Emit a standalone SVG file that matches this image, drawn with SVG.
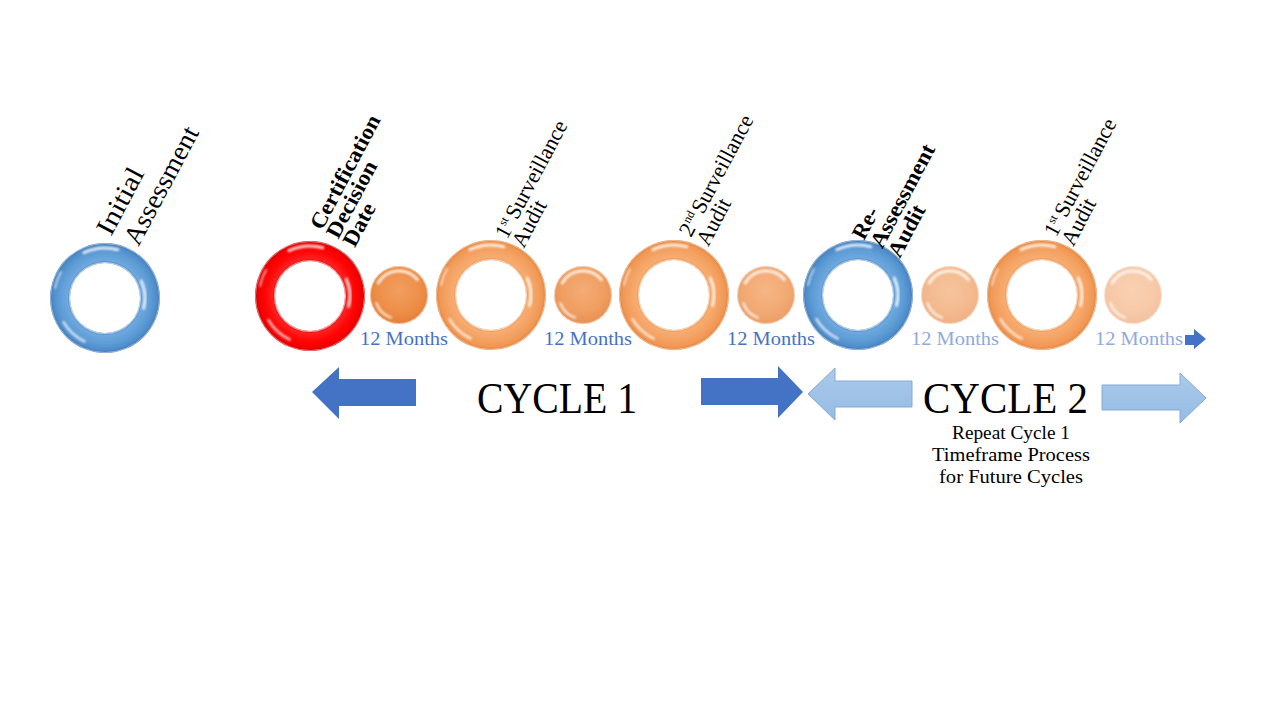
<svg xmlns="http://www.w3.org/2000/svg" width="1280" height="720" viewBox="0 0 1280 720">
<style>
.lbl{font-family:"Liberation Serif","DejaVu Serif",serif;fill:#000}
.b{font-weight:bold}
.mo{font-family:"Liberation Serif","DejaVu Serif",serif;font-size:19px}
.mo1{fill:#4472C4}
.mo2{fill:#8FAADC}
.cyc{font-family:"Liberation Serif","DejaVu Serif",serif;font-size:45px;fill:#000}
.rep{font-family:"Liberation Serif","DejaVu Serif",serif;font-size:18px;fill:#000}
.hl{fill:none;stroke:#fff;stroke-linecap:round;filter:url(#blur)}
.dark{fill:#4472C4}
.light{fill:url(#gLight);stroke:#86A9D6;stroke-width:1}
</style>
<defs>
<filter id="blur" x="-50%" y="-50%" width="200%" height="200%"><feGaussianBlur stdDeviation="1.1"/></filter>
<radialGradient id="gBlue" cx="0.5" cy="0.5" r="0.5">
<stop offset="0.63" stop-color="#3C78B8"/><stop offset="0.68" stop-color="#6EA8DE"/><stop offset="0.82" stop-color="#5E9DD6"/><stop offset="0.94" stop-color="#508ECB"/><stop offset="1" stop-color="#3D76B2"/>
</radialGradient>
<radialGradient id="gRed" cx="0.5" cy="0.5" r="0.5">
<stop offset="0.63" stop-color="#D00000"/><stop offset="0.68" stop-color="#FF2020"/><stop offset="0.82" stop-color="#FF0505"/><stop offset="0.94" stop-color="#F40000"/><stop offset="1" stop-color="#C80000"/>
</radialGradient>
<radialGradient id="gOrange" cx="0.5" cy="0.5" r="0.5">
<stop offset="0.63" stop-color="#E4843A"/><stop offset="0.68" stop-color="#F7AC70"/><stop offset="0.82" stop-color="#F4A263"/><stop offset="0.94" stop-color="#F09753"/><stop offset="1" stop-color="#E0803A"/>
</radialGradient>
<radialGradient id="gBall" cx="0.5" cy="0.42" r="0.6">
<stop offset="0" stop-color="#F29A58"/><stop offset="0.6" stop-color="#EE8A40"/><stop offset="1" stop-color="#E2772C"/>
</radialGradient>
<linearGradient id="gLight" x1="0" y1="0" x2="0" y2="1">
<stop offset="0" stop-color="#A9CAEB"/><stop offset="1" stop-color="#96BBE3"/>
</linearGradient>
<path id="annulus" fill-rule="evenodd" d="M-55,0 a55,55 0 1,0 110,0 a55,55 0 1,0 -110,0 Z M-35,0 a35,35 0 1,1 70,0 a35,35 0 1,1 -70,0 Z"/>
<g id="ringHl">
<path class="hl" stroke-width="3" opacity="0.8" d="M-21.1,-45.3 A50,50 0 0,1 12.9,-48.3"/>
<path class="hl" stroke-width="3" opacity="0.8" d="M36.3,-16.9 A40,40 0 0,1 38.6,10.4"/>
<path class="hl" stroke-width="2.5" opacity="0.7" d="M-20.3,43.5 A48,48 0 0,1 -41.6,24"/>
<path class="hl" stroke-width="2" opacity="0.6" d="M-50,-10 A51,51 0 0,1 -44,-26"/>
<circle r="35.5" fill="none" stroke="#fff" stroke-width="1.2" opacity="0.6"/>
<circle r="54.5" fill="none" stroke="#fff" stroke-width="1" opacity="0.45"/>
</g>
<g id="ball">
<circle r="29" fill="url(#gBall)"/>
<path class="hl" stroke-width="3" opacity="0.8" d="M-20.8,-12 A24,24 0 0,1 18.4,-15.4"/>
<path class="hl" stroke-width="2.5" opacity="0.7" d="M-8.2,22.6 A24,24 0 0,1 -22.6,8.2"/>
<circle r="28.5" fill="none" stroke="#fff" stroke-width="1" opacity="0.5"/>
</g>
</defs>
<rect width="1280" height="720" fill="#fff"/>

<g id="node-initial" transform="translate(105,298)">
<use href="#annulus" fill="url(#gBlue)"/><use href="#ringHl"/>
</g>
<g id="node-cert" transform="translate(310,296)">
<use href="#annulus" fill="url(#gRed)"/><use href="#ringHl"/>
</g>
<g id="node-ball1" transform="translate(399,295)" opacity="0.95"><use href="#ball"/></g>
<g id="node-surv1" transform="translate(491,295)">
<use href="#annulus" fill="url(#gOrange)"/><use href="#ringHl"/>
</g>
<g id="node-ball2" transform="translate(583,295)" opacity="0.82"><use href="#ball"/></g>
<g id="node-surv2" transform="translate(674,295)">
<use href="#annulus" fill="url(#gOrange)"/><use href="#ringHl"/>
</g>
<g id="node-ball3" transform="translate(766,295)" opacity="0.72"><use href="#ball"/></g>
<g id="node-reassess" transform="translate(858,295)">
<use href="#annulus" fill="url(#gBlue)"/><use href="#ringHl"/>
</g>
<g id="node-ball4" transform="translate(950,295)" opacity="0.58"><use href="#ball"/></g>
<g id="node-surv3" transform="translate(1042,295)">
<use href="#annulus" fill="url(#gOrange)"/><use href="#ringHl"/>
</g>
<g id="node-ball5" transform="translate(1133,295)" opacity="0.45"><use href="#ball"/></g>

<g id="labels">
<g transform="translate(111,237) rotate(-62)">
<text class="lbl" font-size="27" x="0" y="0" textLength="72" lengthAdjust="spacingAndGlyphs">Initial</text>
<text class="lbl" font-size="27" x="4" y="29" textLength="130" lengthAdjust="spacingAndGlyphs">Assessment</text>
</g>
<g transform="translate(322,231) rotate(-62)">
<text class="lbl b" font-size="22" x="0" y="0" textLength="126" lengthAdjust="spacingAndGlyphs">Certification</text>
<text class="lbl b" font-size="22" x="0" y="18.5" textLength="84" lengthAdjust="spacingAndGlyphs">Decision</text>
<text class="lbl b" font-size="22" x="0" y="37" textLength="46" lengthAdjust="spacingAndGlyphs">Date</text>
</g>
<g transform="translate(507,240) rotate(-62)">
<text class="lbl" font-size="22" x="0" y="0">1</text>
<text class="lbl" font-size="12" x="11" y="-8">st</text>
<text class="lbl" font-size="22" x="22" y="0" textLength="108" lengthAdjust="spacingAndGlyphs">Surveillance</text>
<text class="lbl" font-size="22" x="0" y="19" textLength="50" lengthAdjust="spacingAndGlyphs">Audit</text>
</g>
<g transform="translate(691,238) rotate(-62)">
<text class="lbl" font-size="22" x="0" y="0">2</text>
<text class="lbl" font-size="12" x="11.5" y="-8">nd</text>
<text class="lbl" font-size="22" x="26" y="0" textLength="108" lengthAdjust="spacingAndGlyphs">Surveillance</text>
<text class="lbl" font-size="22" x="0" y="19.5" textLength="50" lengthAdjust="spacingAndGlyphs">Audit</text>
</g>
<g transform="translate(864,241) rotate(-62)">
<text class="lbl b" font-size="22" x="0" y="0" textLength="33" lengthAdjust="spacingAndGlyphs">Re-</text>
<text class="lbl b" font-size="22" x="1" y="20" textLength="114" lengthAdjust="spacingAndGlyphs">Assessment</text>
<text class="lbl b" font-size="22" x="1" y="40" textLength="56" lengthAdjust="spacingAndGlyphs">Audit</text>
</g>
<g transform="translate(1056,238) rotate(-62)">
<text class="lbl" font-size="22" x="0" y="0">1</text>
<text class="lbl" font-size="12" x="11" y="-8">st</text>
<text class="lbl" font-size="22" x="22" y="0" textLength="108" lengthAdjust="spacingAndGlyphs">Surveillance</text>
<text class="lbl" font-size="22" x="0" y="19.5" textLength="50" lengthAdjust="spacingAndGlyphs">Audit</text>
</g>
</g>

<g id="months">
<text class="mo mo1" x="360" y="345" textLength="88" lengthAdjust="spacingAndGlyphs">12 Months</text>
<text class="mo mo1" x="544" y="345" textLength="88" lengthAdjust="spacingAndGlyphs">12 Months</text>
<text class="mo mo1" x="727" y="345" textLength="88" lengthAdjust="spacingAndGlyphs">12 Months</text>
<text class="mo mo2" x="911" y="345" textLength="88" lengthAdjust="spacingAndGlyphs">12 Months</text>
<text class="mo mo2" x="1095" y="345" textLength="88" lengthAdjust="spacingAndGlyphs">12 Months</text>
</g>

<g id="connectors">
<polygon class="dark" points="1185,335 1194,335 1194,329 1206,339 1194,349 1194,345 1185,345"/>
<polygon class="dark" points="312,392 339,367 339,379 416,379 416,406 339,406 339,419"/>
<polygon class="dark" points="701,378 778,378 778,366 803,392 778,418 778,405 701,405"/>
<polygon class="light" points="808,394 835,368 835,381 912,381 912,407 835,407 835,420"/>
<polygon class="light" points="1102,385 1180,385 1180,373 1206,398 1180,423 1180,410 1102,410"/>
</g>

<g id="cycle-text">
<text class="cyc" x="477" y="413" textLength="160" lengthAdjust="spacingAndGlyphs">CYCLE 1</text>
<text class="cyc" x="923" y="413" textLength="165" lengthAdjust="spacingAndGlyphs">CYCLE 2</text>
<text class="rep" x="952" y="439" textLength="118" lengthAdjust="spacingAndGlyphs">Repeat Cycle 1</text>
<text class="rep" x="932" y="461" textLength="158" lengthAdjust="spacingAndGlyphs">Timeframe Process</text>
<text class="rep" x="939" y="483" textLength="144" lengthAdjust="spacingAndGlyphs">for Future Cycles</text>
</g>
</svg>
